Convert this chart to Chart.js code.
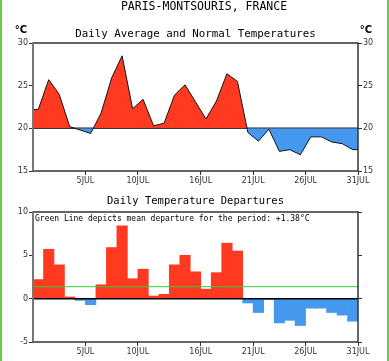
<!DOCTYPE html>
<html lang="en">
<head>
<meta charset="UTF-8">
<title>Paris-Montsouris July Temperatures</title>
<script src="https://cdn.jsdelivr.net/npm/chart.js"></script>
<style>
  html, body { margin: 0; padding: 0; background: #fff; }
  .wrap { position: relative; width: 389px; height: 361px; overflow: hidden; }
  canvas { position: absolute; left: 0; }
  #avgChart { top: 0; }
  #depChart { top: 185px; }
  .edge { position: absolute; top: 0; width: 2px; height: 361px; background: #66cc44; }
</style>
</head>
<body>
<div class="wrap">
  <canvas id="avgChart" width="389" height="185"></canvas>
  <canvas id="depChart" width="389" height="176"></canvas>
  <div class="edge" style="left:0"></div>
  <div class="edge" style="right:0"></div>
</div>
<script>
// July, one value per day (1..31)
const avgTemp = [22.2, 25.7, 24.0, 20.2, 19.8, 19.4, 21.8, 25.9, 28.5, 22.3,
                 23.4, 20.3, 20.6, 23.9, 25.1, 23.1, 21.1, 23.2, 26.4, 25.5,
                 19.5, 18.5, 19.9, 17.3, 17.5, 16.9, 19.0, 19.0, 18.4, 18.2, 17.5];
const normalTemp = [20, 20, 20, 20, 20, 20, 20, 20, 20, 20,
                    20, 20, 20, 20, 20, 20, 20, 20, 20, 20,
                    20, 20, 20, 20, 20, 20, 20, 20, 20, 20, 20];
const departure = [2.2, 5.7, 3.9, 0.2, -0.2, -0.7, 1.6, 5.9, 8.4, 2.3,
                   3.4, 0.3, 0.5, 3.9, 5.0, 3.1, 1.1, 3.0, 6.4, 5.5,
                   -0.5, -1.6, -0.1, -2.8, -2.5, -3.1, -1.1, -1.1, -1.6, -1.9, -2.6];
const meanDeparture = 1.38;
const tickDays = [5, 10, 16, 21, 26, 31];
const tickLabels = ['5JUL', '10JUL', '16JUL', '21JUL', '26JUL', '31JUL'];

const RED = '#ff3a20';
const BLUE = '#4499ee';
const tickFont = { family: 'DejaVu Sans', size: 8 };

// day i is drawn at its middle; the line runs flat to both plot edges
function dayLine(values) {
  const pts = values.map((v, i) => ({ x: i + 0.5, y: v }));
  return [{ x: 0, y: values[0] }, ...pts, { x: 31, y: values[values.length - 1] }];
}

const frameAndText = {
  id: 'frameAndText',
  afterDatasetsDraw(chart, args, opts) {
    const { ctx, chartArea: a } = chart;
    ctx.save();
    if (opts.zeroLine) {
      const y0 = chart.scales.y.getPixelForValue(0);
      ctx.strokeStyle = '#000';
      ctx.lineWidth = 1.5;
      ctx.beginPath(); ctx.moveTo(a.left, y0); ctx.lineTo(a.right, y0); ctx.stroke();
    }
    ctx.strokeStyle = '#333';
    ctx.lineWidth = 1.5;
    ctx.strokeRect(a.left, a.top, a.right - a.left, a.bottom - a.top);
    ctx.strokeStyle = '#777';
    ctx.lineWidth = 2;
    ctx.beginPath(); ctx.moveTo(a.left, a.top); ctx.lineTo(a.left, a.bottom); ctx.stroke();
    (opts.texts || []).forEach(t => {
      ctx.font = t.font;
      ctx.fillStyle = '#000';
      ctx.textAlign = t.align || 'center';
      ctx.textBaseline = 'middle';
      ctx.fillText(t.text, t.x, t.y);
    });
    ctx.restore();
  }
};

function xScale(h) {
  return {
    type: 'linear', min: 0, max: 31, offset: false,
    afterBuildTicks: s => { s.ticks = tickDays.map(v => ({ value: v })); },
    ticks: {
      autoSkip: false, maxRotation: 0, padding: 1, font: tickFont, color: '#333',
      callback: v => tickLabels[tickDays.indexOf(v)]
    },
    grid: { offset: false, drawOnChartArea: false, tickLength: 4, color: '#333' },
    border: { display: false },
    afterFit: s => { s.height = h; }
  };
}

function yScale(pos, min, max, w, showLabels) {
  return {
    type: 'linear', position: pos, min: min, max: max,
    ticks: { stepSize: 5, padding: 1, font: tickFont, color: showLabels ? '#333' : 'rgba(0,0,0,0)' },
    grid: { drawOnChartArea: false, tickLength: 4, color: '#333' },
    border: { display: false },
    afterFit: s => { s.width = w; }
  };
}

new Chart(document.getElementById('avgChart'), {
  type: 'line',
  data: {
    datasets: [
      {
        data: dayLine(avgTemp),
        borderColor: '#111', borderWidth: 1, pointRadius: 0, tension: 0,
        fill: { target: 1, above: RED, below: BLUE }
      },
      {
        data: dayLine(normalTemp),
        borderColor: '#222', borderWidth: 1.5, pointRadius: 0, tension: 0, fill: false
      }
    ]
  },
  options: {
    responsive: false, animation: false, devicePixelRatio: 1,
    layout: { padding: { top: 43, left: 0, right: 0, bottom: 0 } },
    plugins: {
      legend: { display: false }, tooltip: { enabled: false },
      frameAndText: {
        texts: [
          { text: 'PARIS-MONTSOURIS, FRANCE', x: 204, y: 7, font: '11.5px "DejaVu Sans Mono"' },
          { text: 'Daily Average and Normal Temperatures', x: 195.5, y: 34, font: '10.8px "DejaVu Sans Mono"' },
          { text: '°C', x: 21, y: 30, font: 'bold 10px "DejaVu Sans"' },
          { text: '°C', x: 366, y: 30, font: 'bold 10px "DejaVu Sans"' }
        ]
      }
    },
    scales: {
      x: xScale(14),
      y: yScale('left', 15, 30, 33, true),
      y2: yScale('right', 15, 30, 31, true)
    }
  },
  plugins: [frameAndText]
});

new Chart(document.getElementById('depChart'), {
  type: 'bar',
  data: {
    datasets: [
      {
        type: 'line',
        data: [{ x: 0, y: meanDeparture }, { x: 31, y: meanDeparture }],
        borderColor: '#33cc33', borderWidth: 1, pointRadius: 0, order: 0
      },
      {
        data: departure.map((v, i) => ({ x: i + 0.5, y: v })),
        backgroundColor: departure.map(v => v >= 0 ? RED : BLUE),
        borderWidth: 0, barPercentage: 1, categoryPercentage: 1, order: 1
      }
    ]
  },
  options: {
    responsive: false, animation: false, devicePixelRatio: 1,
    layout: { padding: { top: 27, left: 0, right: 0, bottom: 0 } },
    plugins: {
      legend: { display: false }, tooltip: { enabled: false },
      frameAndText: {
        zeroLine: true,
        texts: [
          { text: 'Daily Temperature Departures', x: 195.5, y: 16, font: '10.5px "DejaVu Sans Mono"' },
          { text: 'Green Line depicts mean departure for the period: +' + meanDeparture.toFixed(2) + '°C',
            x: 35, y: 34, align: 'left', font: '8px "DejaVu Sans Mono"' }
        ]
      }
    },
    scales: {
      x: xScale(19),
      y: yScale('left', -5, 10, 33, true),
      y2: yScale('right', -5, 10, 31, false)
    }
  },
  plugins: [frameAndText]
});
</script>
</body>
</html>
